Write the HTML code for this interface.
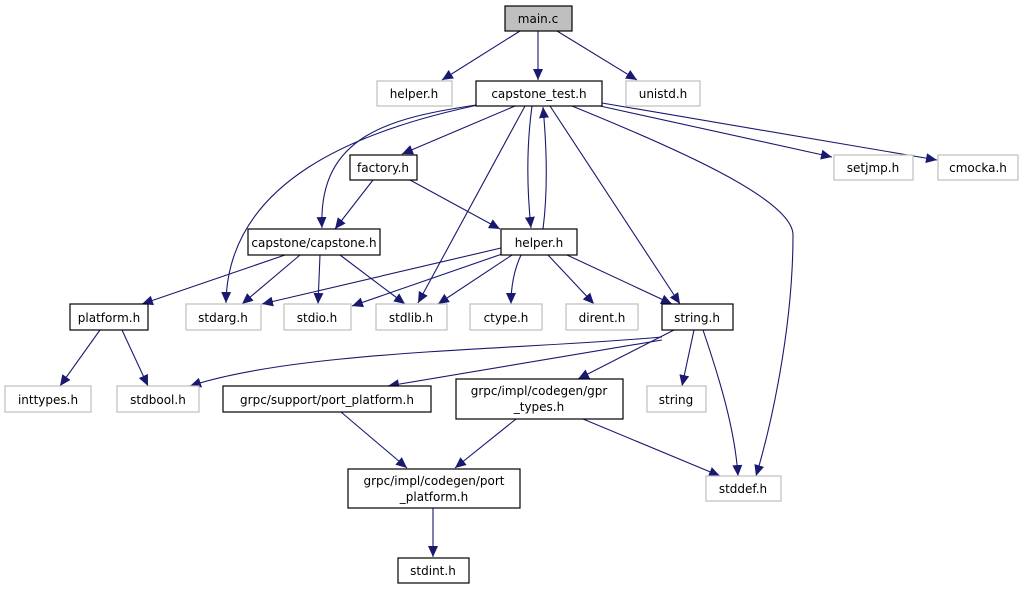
<!DOCTYPE html>
<html><head><meta charset="utf-8"><style>
html,body{margin:0;padding:0;background:#fff;}
svg{display:block}
text{font-family:"DejaVu Sans","Liberation Sans",sans-serif;font-size:12px;fill:#000;text-anchor:middle}
.e{fill:none;stroke:#191970;stroke-width:1.1}
.b{fill:#fff;stroke:#000;stroke-width:1.2}
.g{fill:#fff;stroke:#bfbfbf;stroke-width:1.2}
</style></head><body>
<svg width="1024" height="589" viewBox="0 0 1024 589" xmlns="http://www.w3.org/2000/svg">
<defs><marker id="a" markerUnits="userSpaceOnUse" markerWidth="12" markerHeight="10" refX="11" refY="5" orient="auto"><path d="M0,0 L11,5 L0,10 z" fill="#191970"/></marker></defs>
<g marker-end="url(#a)">
<path class="e" d="M520,31 L442,80"/>
<path class="e" d="M538,31 L538,80"/>
<path class="e" d="M557,31 L637,80"/>
<path class="e" d="M515,106 L402,154"/>
<path class="e" d="M600,106 L832,157"/>
<path class="e" d="M602,103 L937,160"/>
<path class="e" d="M476,105 C390,118 318,135 322,228"/>
<path class="e" d="M478,105 C360,130 228,180 226,303"/>
<path class="e" d="M525,106 L418,303"/>
<path class="e" d="M532,106 C526,150 527,190 531,228"/>
<path class="e" d="M543,229 C548,190 547,150 543,107"/>
<path class="e" d="M550,106 L680,304"/>
<path class="e" d="M572,106 C680,150 793,200 793,235 C793,330 770,430 756,476"/>
<path class="e" d="M373,180 L335,229"/>
<path class="e" d="M410,180 L500,229"/>
<path class="e" d="M285,255 L142,304"/>
<path class="e" d="M300,255 L242,304"/>
<path class="e" d="M320,255 L318,304"/>
<path class="e" d="M340,255 L405,304"/>
<path class="e" d="M501,248 L262,304"/>
<path class="e" d="M505,253 L352,306"/>
<path class="e" d="M512,255 L438,304"/>
<path class="e" d="M521,255 C514,270 511,285 511,304"/>
<path class="e" d="M548,255 L594,304"/>
<path class="e" d="M567,255 L672,304"/>
<path class="e" d="M100,330 L60,386"/>
<path class="e" d="M122,330 L148,386"/>
<path class="e" d="M662,337 C520,350 300,350 190,386"/>
<path class="e" d="M662,340 L388,386"/>
<path class="e" d="M674,330 L578,379"/>
<path class="e" d="M694,330 L682,386"/>
<path class="e" d="M703,330 C720,380 735,430 738,476"/>
<path class="e" d="M341,412 L407,468"/>
<path class="e" d="M516,419 L455,468"/>
<path class="e" d="M583,419 L720,476"/>
<path class="e" d="M433,508 L433,557"/>
</g>
<rect x="505" y="6" width="67" height="25" fill="#bfbfbf" stroke="#000" stroke-width="1.2"/><text x="538" y="23">main.c</text>
<rect class="g" x="377" y="81" width="75" height="25"/><text x="414" y="98">helper.h</text>
<rect class="b" x="476" y="81" width="126" height="25"/><text x="539" y="98">capstone_test.h</text>
<rect class="g" x="626" y="81" width="74" height="25"/><text x="663" y="98">unistd.h</text>
<rect class="b" x="350" y="155" width="67" height="25"/><text x="383" y="172">factory.h</text>
<rect class="g" x="834" y="155" width="79" height="25"/><text x="873" y="172">setjmp.h</text>
<rect class="g" x="938" y="155" width="80" height="25"/><text x="978" y="172">cmocka.h</text>
<rect class="b" x="248" y="229" width="132" height="26"/><text x="314" y="247">capstone/capstone.h</text>
<rect class="b" x="501" y="229" width="76" height="26"/><text x="539" y="247">helper.h</text>
<rect class="b" x="70" y="304" width="78" height="26"/><text x="109" y="322">platform.h</text>
<rect class="g" x="186" y="304" width="75" height="26"/><text x="223" y="322">stdarg.h</text>
<rect class="g" x="284" y="304" width="67" height="26"/><text x="317" y="322">stdio.h</text>
<rect class="g" x="376" y="304" width="71" height="26"/><text x="411" y="322">stdlib.h</text>
<rect class="g" x="470" y="304" width="72" height="26"/><text x="506" y="322">ctype.h</text>
<rect class="g" x="566" y="304" width="72" height="26"/><text x="602" y="322">dirent.h</text>
<rect class="b" x="662" y="304" width="71" height="26"/><text x="697" y="322">string.h</text>
<rect class="g" x="5" y="386" width="86" height="26"/><text x="48" y="404">inttypes.h</text>
<rect class="g" x="117" y="386" width="82" height="26"/><text x="158" y="404">stdbool.h</text>
<rect class="b" x="223" y="386" width="208" height="26"/><text x="327" y="404">grpc/support/port_platform.h</text>
<rect class="b" x="456" y="379" width="167" height="40"/><text x="539" y="395">grpc/impl/codegen/gpr</text><text x="539" y="411">_types.h</text>
<rect class="g" x="647" y="386" width="59" height="26"/><text x="676" y="404">string</text>
<rect class="g" x="706" y="476" width="75" height="25"/><text x="743" y="493">stddef.h</text>
<rect class="b" x="348" y="469" width="172" height="39"/><text x="434" y="485">grpc/impl/codegen/port</text><text x="434" y="501">_platform.h</text>
<rect class="b" x="398" y="558" width="71" height="25"/><text x="433" y="575">stdint.h</text>
</svg>
</body></html>
